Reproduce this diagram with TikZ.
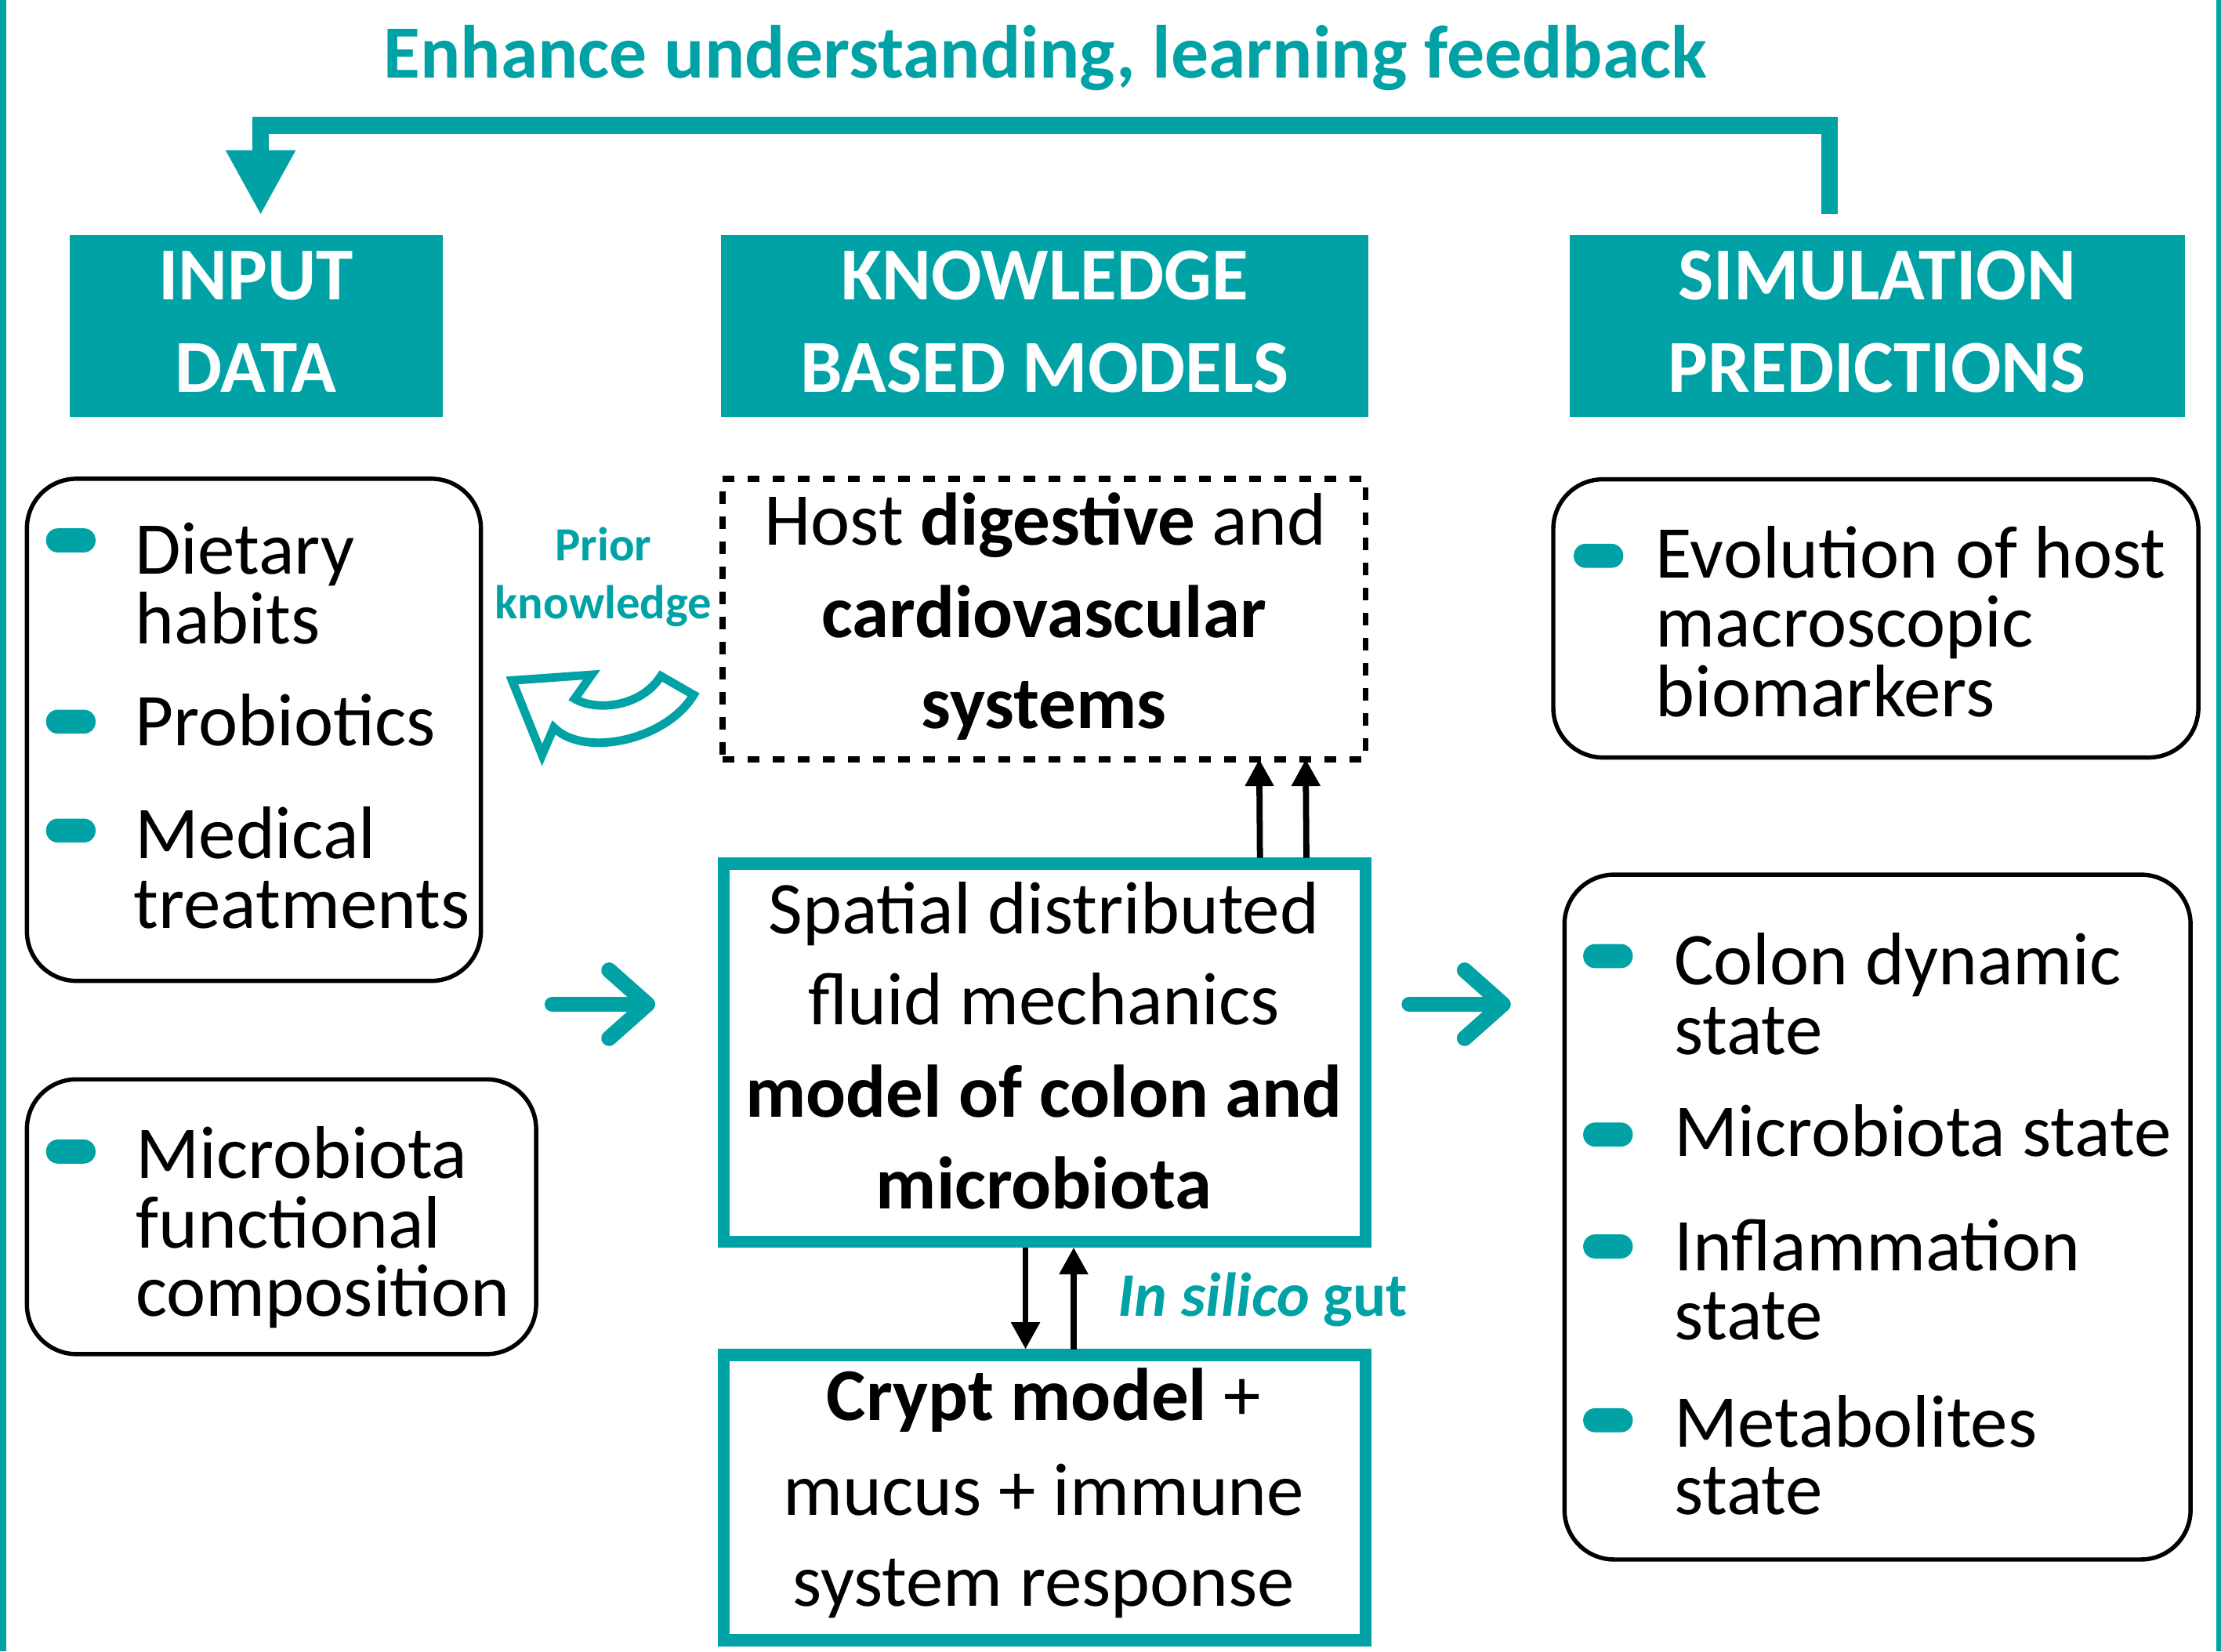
\documentclass[tikz,border=0pt]{standalone}
\usepackage{fontspec}
\setmainfont{Carlito}
\usetikzlibrary{arrows.meta,calc}
\definecolor{teal1}{RGB}{0,162,165}
\newcommand\bodyf{\fontsize{26.3}{24.5}\selectfont}
\newcommand\headf{\fontsize{26.4}{32.5}\selectfont\bfseries}
\newcommand\priorf{\fontsize{16.8}{20.5}\selectfont\bfseries}
\begin{document}
\begin{tikzpicture}[x=0.5pt,y=-0.5pt,
  hdr/.style={fill=teal1, draw=none, inner sep=0pt, outer sep=0pt},
  htext/.style={text=white, font=\headf, align=center, inner sep=0pt, yshift=1.5pt},
  rbox/.style={draw=black, line width=1.5pt, rounded corners=17.5pt, inner sep=0pt, outer sep=0pt},
  tbox/.style={draw=teal1, line width=4.25pt, inner sep=0pt, outer sep=0pt},
  dbox/.style={draw=black, line width=2.1pt, dash pattern=on 4.25pt off 4.6pt, inner sep=0pt, outer sep=0pt},
  pill/.style={fill=teal1, rounded corners=4.2pt, minimum width=17.5pt, minimum height=8.5pt, inner sep=0pt, outer sep=0pt},
  item/.style={anchor=base west, inner sep=0pt, font=\bodyf},
  cline/.style={anchor=base, inner sep=0pt, font=\bodyf},
  blk/.style={draw=black, line width=2.15pt, -{Triangle[width=9.75pt,length=9.5pt]}},
  chev/.style={draw=teal1, line width=5.5pt, line cap=round, line join=round},
  fb/.style={draw=teal1, line width=5.85pt, line join=miter, -{Triangle[width=23pt,length=23pt]}},
]
\useasboundingbox (0,0) rectangle (1568,1165.8);
% side frame lines
\fill[teal1] (0,0) rectangle (4.4,1165.8);
\fill[teal1] (1564.6,0) rectangle (1568,1165.8);

% title
\node[anchor=base, inner sep=0pt, text=teal1, font=\fontsize{26.5}{30}\selectfont\bfseries] (title) at (738,55) {Enhance understanding, learning feedback};

% headers
\node[hdr, minimum width=131.75pt, minimum height=64.25pt] (input) at (180.75,230.25) {};
\node[htext] (inputT) at (input) {INPUT\\DATA};
\node[hdr, minimum width=228.5pt, minimum height=64.25pt] (know) at (737.5,230.25) {};
\node[htext] (knowT) at (know) {KNOWLEDGE\\BASED MODELS};
\node[hdr, minimum width=217.3pt, minimum height=64.25pt] (sim) at (1325.3,230.25) {};
\node[htext] (simT) at (sim) {SIMULATION\\PREDICTIONS};

% feedback arrow
\coordinate (fbs) at ($(sim.north)+(-33.8,-15)$);
\coordinate (fbe) at ($(input.north)+(3.25,-14)$);
\draw[fb] (fbs) |- (184,88.5) -- (fbe);

% left boxes
\node[rbox, minimum width=160.25pt, minimum height=177.25pt] (lbox1) at (179.25,515.25) {};
\node[rbox, minimum width=179.75pt, minimum height=97pt] (lbox2) at (198.75,859) {};
\node[pill] (p1) at (50,381.5) {};
\node[pill] (p2) at (50,509.5) {};
\node[pill] (p3) at (50,586.4) {};
\node[item] (t1a) at (95,405.3) {Dietary};
\node[item] (t1b) at (95,454.3) {habits};
\node[item] (t2a) at (95,526.3) {Probiotics};
\node[item] (t3a) at (95,606.1) {Medical};
\node[item] (t3b) at (94,655.1) {treatments};
\node[pill] (p4) at (50,813) {};
\node[item] (t4a) at (95.5,832) {Microbiota};
\node[item] (t4b) at (95.5,881) {functional};
\node[item] (t4c) at (95.5,929.5) {composition};

% prior knowledge
\node[anchor=base, inner sep=0pt, text=teal1, font=\priorf] (pk1) at (426,395.6) {Prior};
\node[anchor=base, inner sep=0pt, text=teal1, font=\priorf] (pk2) at (426,436.6) {knowledge};
\draw[teal1, line width=3pt, line join=miter]
  (361.5,480.4) -- (417.7,476.4) -- (405.7,493.3)
  .. controls (420,502) and (452,500) .. (466.6,477.3)
  -- (489.7,490.6)
  .. controls (470,523) and (412,535) .. (391,513.6)
  -- (382.7,533) -- cycle;

% dashed host box
\node[dbox, minimum width=227pt, minimum height=99pt] (host) at (737,437) {};
\node[cline] (h1) at (738,384.6) {Host \textbf{digestive} and};
\node[cline] (h2) at (737,450) {\textbf{cardiovascular}};
\node[cline] (h3) at (737,514.3) {\textbf{systems}};

% spatial box
\node[tbox, minimum width=226.65pt, minimum height=133.35pt] (spatial) at (737.5,743.15) {};
\node[cline] (s1) at (737,659.4) {Spatial distributed};
\node[cline] (s2) at (737,723.3) {fluid mechanics};
\node[cline] (s3) at (737,788.5) {\textbf{model of colon and}};
\node[cline] (s4) at (737,853.2) {\textbf{microbiota}};

% crypt box
\node[tbox, minimum width=226.65pt, minimum height=100.65pt] (crypt) at (737.5,1057.35) {};
\node[cline] (c1) at (737,1003) {\textbf{Crypt model} +};
\node[cline] (c2) at (737,1069.5) {mucus + immune};
\node[cline] (c3) at (737,1134.2) {system response};

% arrows spatial -> host
\draw[blk] ([xshift=76pt,yshift=2.1pt]spatial.north) -- ([xshift=76pt]host.south);
\draw[blk] ([xshift=92.4pt,yshift=2.1pt]spatial.north) -- ([xshift=92.4pt]host.south);
% arrows spatial <-> crypt
\draw[blk] ([xshift=-6.75pt,yshift=-2.1pt]spatial.south) -- ([xshift=-6.75pt,yshift=2.1pt]crypt.north);
\draw[blk] ([xshift=10.25pt,yshift=2.1pt]crypt.north) -- ([xshift=10.25pt,yshift=-2.1pt]spatial.south);
\node[anchor=base west, inner sep=0pt, text=teal1, font=\fontsize{21.9}{26}\selectfont\bfseries] (insilico) at (789,929.5) {\textit{In silico} gut};

% right boxes
\node[rbox, minimum width=227.7pt, minimum height=98.2pt] (rbox1) at (1324.3,436.6) {};
\node[pill] (p5) at (1128.5,392.4) {};
\node[item] (r1a) at (1168.5,408.1) {Evolution of host};
\node[item] (r1b) at (1168.5,457) {macroscopic};
\node[item] (r1c) at (1168.5,505.7) {biomarkers};

\node[rbox, minimum width=221pt, minimum height=241.75pt] (rbox2) at (1325.5,859.25) {};
\node[pill] (p6) at (1135.2,675) {};
\node[pill] (p7) at (1135.2,801) {};
\node[pill] (p8) at (1135.2,880) {};
\node[pill] (p9) at (1135.2,1002.7) {};
\node[item] (r2a) at (1181.5,695) {Colon dynamic};
\node[item] (r2b) at (1181.5,744.5) {state};
\node[item] (r2c) at (1181.5,816.6) {Microbiota state};
\node[item] (r2d) at (1181.5,897) {Inflammation};
\node[item] (r2e) at (1181.5,945.9) {state};
\node[item] (r2f) at (1181.5,1021.4) {Metabolites};
\node[item] (r2g) at (1181.5,1069) {state};

% teal chevron arrows
\coordinate (la1) at (390,709);
\coordinate (la2) at (457,709);
\draw[chev] (la1) -- (la2);
\draw[chev] ($(la2)+(-27,-24)$) -- (la2) -- ($(la2)+(-27,24)$);
\coordinate (ra1) at (995,709);
\coordinate (ra2) at (1061,709);
\draw[chev] (ra1) -- (ra2);
\draw[chev] ($(ra2)+(-27,-24)$) -- (ra2) -- ($(ra2)+(-27,24)$);
\end{tikzpicture}
\end{document}
